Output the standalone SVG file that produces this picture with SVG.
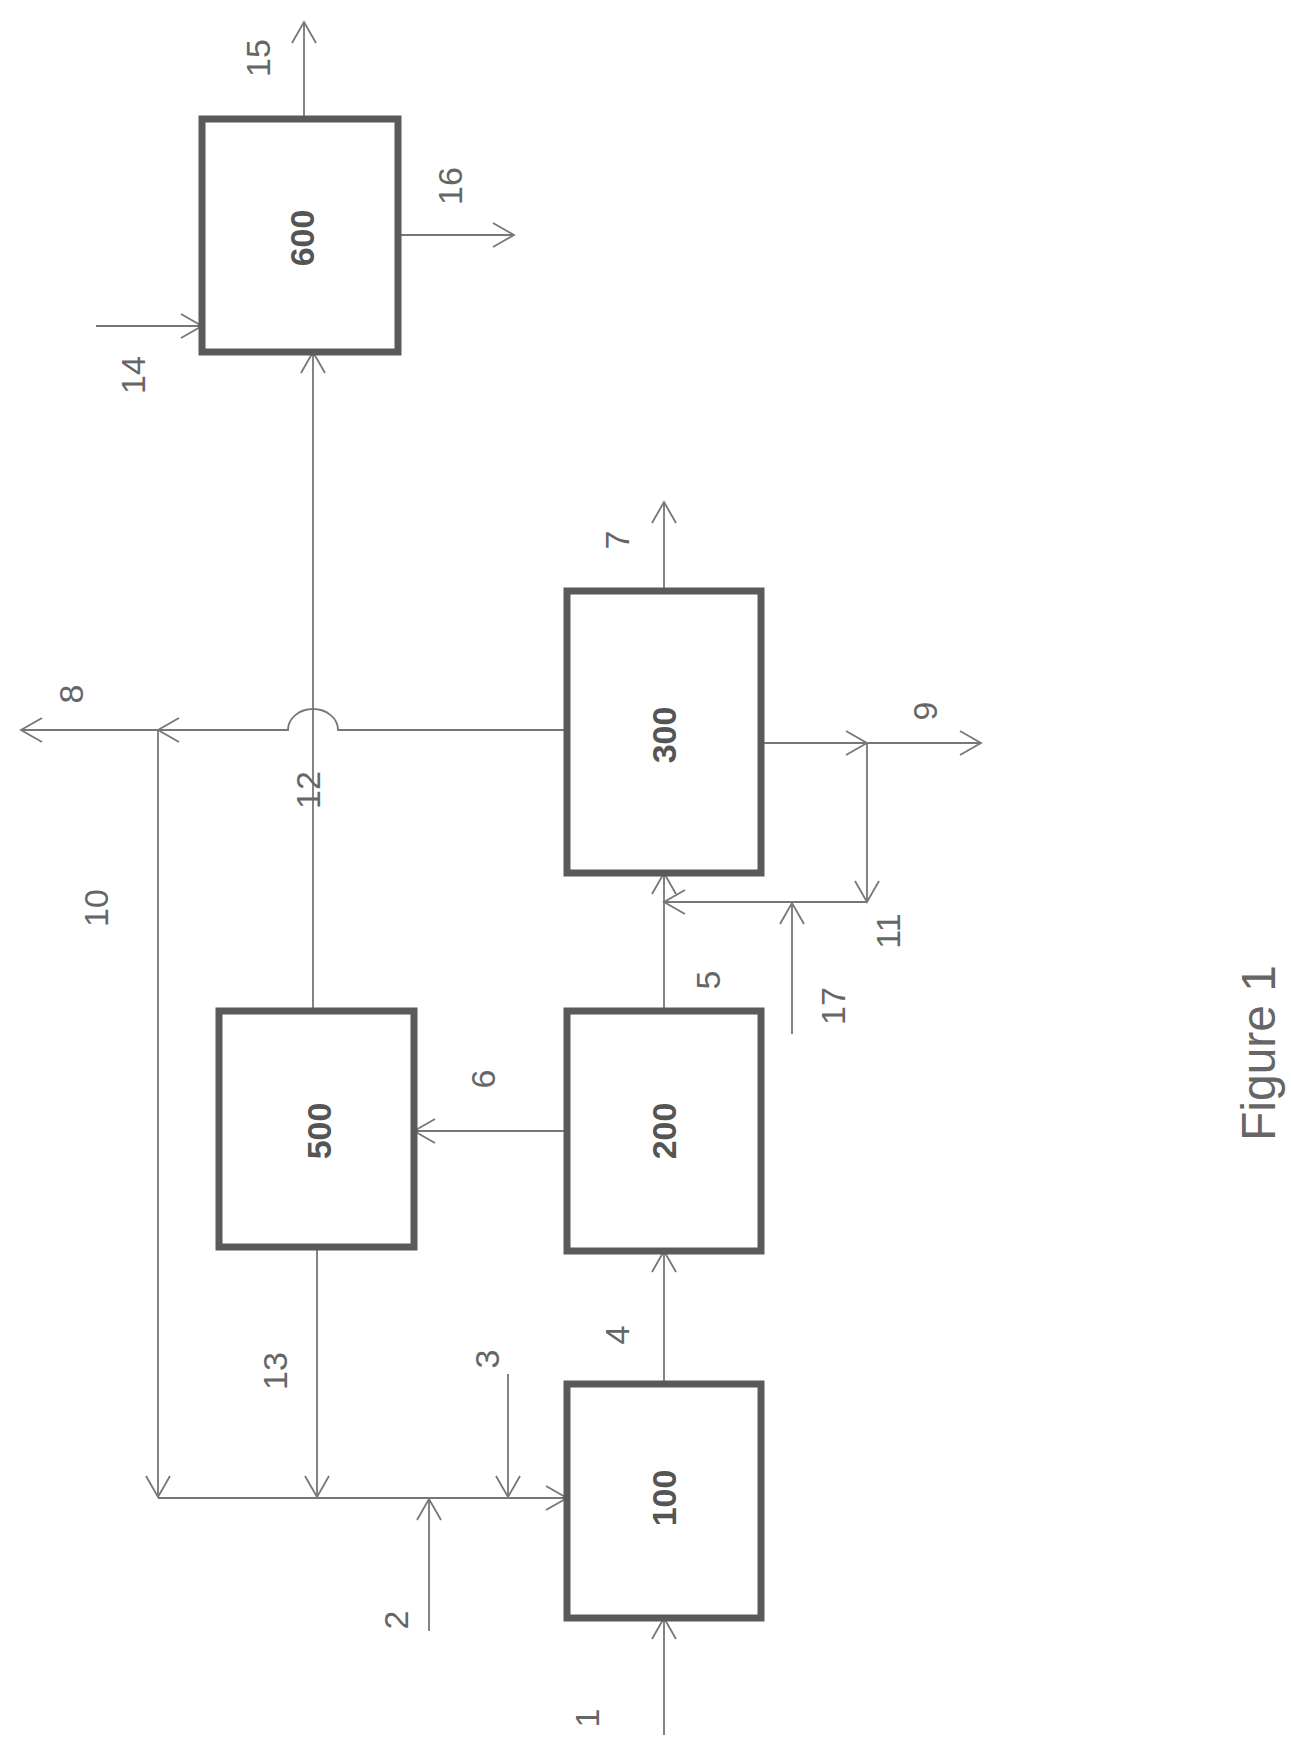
<svg xmlns="http://www.w3.org/2000/svg" width="1291" height="1747" viewBox="0 0 1291 1747">
<style>
.box{fill:#fff;stroke:#5a5a5a;stroke-width:7}
.ln{fill:none;stroke:#777;stroke-width:1.8}
.lb{font-family:"Liberation Sans",Arial,sans-serif;font-size:34px;fill:#666;text-anchor:middle;dominant-baseline:central}
.bl{font-family:"Liberation Sans",Arial,sans-serif;font-size:34px;font-weight:bold;fill:#555;text-anchor:middle;dominant-baseline:central}
</style>
<defs>
<marker id="a" markerUnits="userSpaceOnUse" markerWidth="30" markerHeight="30" refX="22" refY="13" orient="auto">
<path d="M1,1 L22,13 L1,25" fill="none" stroke="#777" stroke-width="1.8"/>
</marker>
</defs>
<g id="connectors" class="ln">
<path d="M304,119 V22" marker-end="url(#a)"/>
<path d="M398,235 H514" marker-end="url(#a)"/>
<path d="M96,326 H202" marker-end="url(#a)"/>
<path d="M313,1011 V352" marker-end="url(#a)"/>
<path d="M664,591 V502" marker-end="url(#a)"/>
<path d="M567,730 H338 A25,21 0 0 0 288,730 H158" marker-end="url(#a)"/>
<path d="M158,730 H21" marker-end="url(#a)"/>
<path d="M158,730 V1497" marker-end="url(#a)"/>
<path d="M158,1498 H567" marker-end="url(#a)"/>
<path d="M317,1247 V1497" marker-end="url(#a)"/>
<path d="M508,1374 V1497" marker-end="url(#a)"/>
<path d="M429,1631 V1499" marker-end="url(#a)"/>
<path d="M664,1735 V1618" marker-end="url(#a)"/>
<path d="M664,1384 V1251" marker-end="url(#a)"/>
<path d="M567,1131 H414" marker-end="url(#a)"/>
<path d="M664,1011 V873" marker-end="url(#a)"/>
<path d="M761,743 H867" marker-end="url(#a)"/>
<path d="M867,743 H981" marker-end="url(#a)"/>
<path d="M867,743 V902" marker-end="url(#a)"/>
<path d="M867,902 H664" marker-end="url(#a)"/>
<path d="M792,1034 V903" marker-end="url(#a)"/>
</g>
<g id="n600"><rect class="box" x="202" y="119" width="196" height="233"/><text class="bl" transform="translate(302,238) rotate(-90)">600</text></g>
<g id="n300"><rect class="box" x="567" y="591" width="194" height="282"/><text class="bl" transform="translate(664,735) rotate(-90)">300</text></g>
<g id="n500"><rect class="box" x="219" y="1011" width="195" height="236"/><text class="bl" transform="translate(319,1131) rotate(-90)">500</text></g>
<g id="n200"><rect class="box" x="567" y="1011" width="194" height="240"/><text class="bl" transform="translate(664,1131) rotate(-90)">200</text></g>
<g id="n100"><rect class="box" x="567" y="1384" width="194" height="234"/><text class="bl" transform="translate(664,1498) rotate(-90)">100</text></g>
<g id="labels">
<text class="lb" transform="translate(258,58) rotate(-90)">15</text>
<text class="lb" transform="translate(450,186) rotate(-90)">16</text>
<text class="lb" transform="translate(133,375) rotate(-90)">14</text>
<text class="lb" transform="translate(617,540) rotate(-90)">7</text>
<text class="lb" transform="translate(71,694) rotate(-90)">8</text>
<text class="lb" transform="translate(308,790) rotate(-90)">12</text>
<text class="lb" transform="translate(925,711) rotate(-90)">9</text>
<text class="lb" transform="translate(96,908) rotate(-90)">10</text>
<text class="lb" transform="translate(888,931) rotate(-90)">11</text>
<text class="lb" transform="translate(833,1006) rotate(-90)">17</text>
<text class="lb" transform="translate(708,980) rotate(-90)">5</text>
<text class="lb" transform="translate(483,1079) rotate(-90)">6</text>
<text class="lb" transform="translate(617,1335) rotate(-90)">4</text>
<text class="lb" transform="translate(275,1371) rotate(-90)">13</text>
<text class="lb" transform="translate(487,1359) rotate(-90)">3</text>
<text class="lb" transform="translate(396,1620) rotate(-90)">2</text>
<text class="lb" transform="translate(587,1718) rotate(-90)">1</text>
<text class="lb" style="font-size:48px" transform="translate(1258,1053) rotate(-90)">Figure 1</text>
</g>
</svg>
